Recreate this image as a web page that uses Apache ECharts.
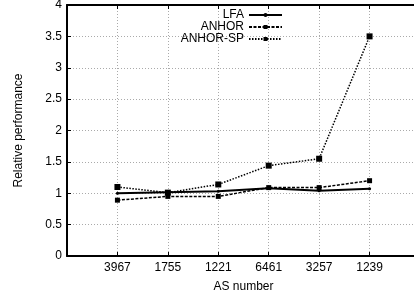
<!DOCTYPE html>
<html><head><meta charset="utf-8">
<script src="https://cdn.jsdelivr.net/npm/echarts@6/dist/echarts.min.js"></script>
<style>html,body{margin:0;padding:0;background:#fff}#c{width:414px;height:296px}</style>
</head><body><div id="c"></div>
<script>
const categories = ['3967','1755','1221','6461','3257','1239'];
const lfa = [1.00, 1.015, 1.03, 1.08, 1.04, 1.07];
const anhor = [0.89, 0.95, 0.95, 1.09, 1.09, 1.20];
const anhorSP = [1.10, 1.01, 1.14, 1.44, 1.55, 3.50];

const pts = arr => arr.map((v, i) => [i + 1, v]);
const font = 'Liberation Sans, Arial, Helvetica, sans-serif';
const axLine = {show: true, onZero: false, lineStyle: {color: '#000', width: 2}};
const chart = echarts.init(document.getElementById('c'), null, {renderer: 'canvas'});
chart.setOption({
  animation: false,
  textStyle: {fontFamily: font},
  grid: {left: 67, width: 353, top: 5, height: 251, outerBoundsMode: 'none', containLabel: false, show: false},
  legend: {
    orient: 'vertical', right: 126, top: 4, align: 'right', itemGap: 0,
    itemWidth: 33, itemHeight: 5,
    textStyle: {fontFamily: font, fontSize: 12, color: '#000', lineHeight: 11.8},
    data: ['LFA', 'ANHOR', 'ANHOR-SP']
  },
  xAxis: [{
    type: 'value', min: 0, max: 7, interval: 1,
    name: 'AS number', nameLocation: 'middle', nameGap: 25,
    nameTextStyle: {fontFamily: font, fontSize: 12, color: '#000'},
    axisLine: axLine,
    axisTick: {show: true, inside: true, length: 4, lineStyle: {color: '#000', width: 1}},
    axisLabel: {fontFamily: font, fontSize: 12, color: '#000', margin: 6,
      formatter: v => categories[v - 1] || ''},
    splitLine: {show: true, lineStyle: {color: '#aaa', type: [1, 2], width: 1}}
  }, {
    type: 'value', min: 0, max: 7, interval: 1, position: 'top',
    axisLine: axLine,
    axisTick: {show: true, inside: true, length: 4, lineStyle: {color: '#000', width: 1}},
    axisLabel: {show: false}, splitLine: {show: false}
  }],
  yAxis: {
    type: 'value', min: 0, max: 4, interval: 0.5,
    name: 'Relative performance', nameLocation: 'middle', nameGap: 42,
    nameTextStyle: {fontFamily: font, fontSize: 12, color: '#000'},
    axisLine: axLine,
    axisTick: {show: true, inside: true, length: 4, lineStyle: {color: '#000', width: 1}},
    axisLabel: {fontFamily: font, fontSize: 12, color: '#000', margin: 5},
    splitLine: {show: true, lineStyle: {color: '#aaa', type: [1, 2], width: 1}}
  },
  series: [
    {name: 'LFA', type: 'line', data: pts(lfa), symbol: 'circle', symbolSize: 3,
      itemStyle: {color: '#000'}, lineStyle: {color: '#000', width: 2, type: 'solid'}},
    {name: 'ANHOR', type: 'line', data: pts(anhor), symbol: 'rect', symbolSize: 5,
      itemStyle: {color: '#000'}, lineStyle: {color: '#000', width: 1.5, type: [3, 1.5]}},
    {name: 'ANHOR-SP', type: 'line', data: pts(anhorSP), symbol: 'rect', symbolSize: 6,
      itemStyle: {color: '#000'}, lineStyle: {color: '#000', width: 1.5, type: [1.5, 1.5]}}
  ]
});
</script></body></html>
